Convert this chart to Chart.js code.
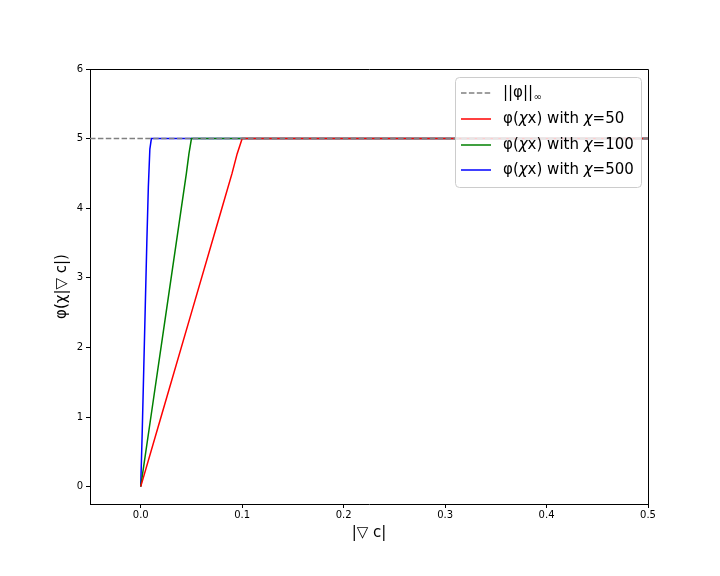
<!DOCTYPE html>
<html>
<head>
<meta charset="utf-8">
<script src="https://cdn.jsdelivr.net/npm/chart.js@4/dist/chart.umd.min.js"></script>
<style>
html,body{margin:0;padding:0;background:#fff;}
#wrap{width:720px;height:576px;position:relative;}
</style>
</head>
<body>
<div id="wrap"><canvas id="c" width="720" height="576"></canvas></div>
<script>
// ---- data ----
const normX = [-0.05, 0.5];
const normY = [5, 5];
const redX = [0, 0.02, 0.05, 0.08, 0.09, 0.095, 0.1, 0.5];
const redY = [0, 1.0, 2.5, 4.0, 4.5, 4.78, 5, 5];
const greenX = [0, 0.01, 0.025, 0.04, 0.045, 0.0475, 0.05, 0.5];
const greenY = [0, 1.0, 2.5, 4.0, 4.5, 4.78, 5, 5];
const blueX = [0, 0.0015, 0.003, 0.0045, 0.006, 0.0075, 0.009, 0.0105, 0.5];
const blueY = [0, 0.8, 1.7, 2.6, 3.5, 4.3, 4.85, 5, 5];
const xTicks = [0, 0.1, 0.2, 0.3, 0.4, 0.5];
const yTicks = [0, 1, 2, 3, 4, 5, 6];
const seriesLabels = ['||φ||∞', 'φ(χx) with χ=50', 'φ(χx) with χ=100', 'φ(χx) with χ=500'];
const chiValues = ['50', '100', '500'];

const pts = (xs, ys) => xs.map((x, i) => ({x: x, y: ys[i]}));
const FONT = "'DejaVu Sans', sans-serif";
const align = p => Math.round(p - 0.5) + 0.5;

const frame = {
  id: 'frame',
  afterDraw(chart) {
    const a = chart.chartArea, ctx = chart.ctx;
    ctx.save();
    // top and right spines
    ctx.strokeStyle = '#000';
    ctx.lineWidth = 1;
    ctx.beginPath();
    ctx.moveTo(align(a.left), align(a.top));
    ctx.lineTo(align(a.right), align(a.top));
    ctx.lineTo(align(a.right), align(a.bottom));
    ctx.stroke();

    // legend box
    const bx = 455.5, by = 77.5, bw = 186, bh = 110, r = 4;
    ctx.beginPath();
    ctx.moveTo(bx + r, by);
    ctx.lineTo(bx + bw - r, by);
    ctx.arcTo(bx + bw, by, bx + bw, by + r, r);
    ctx.lineTo(bx + bw, by + bh - r);
    ctx.arcTo(bx + bw, by + bh, bx + bw - r, by + bh, r);
    ctx.lineTo(bx + r, by + bh);
    ctx.arcTo(bx, by + bh, bx, by + bh - r, r);
    ctx.lineTo(bx, by + r);
    ctx.arcTo(bx, by, bx + r, by, r);
    ctx.closePath();
    ctx.fillStyle = 'rgba(255,255,255,0.8)';
    ctx.fill();
    ctx.strokeStyle = '#cccccc';
    ctx.lineWidth = 1;
    ctx.stroke();

    const ds = chart.data.datasets;
    const rows = [93, 119, 145, 170];
    const hx0 = 461, hx1 = 491, tx = 503;
    ctx.textBaseline = 'middle';
    ctx.textAlign = 'left';
    rows.forEach((y, i) => {
      const d = ds[i];
      ctx.beginPath();
      ctx.strokeStyle = d.borderColor;
      ctx.lineWidth = 1.5;
      ctx.setLineDash(d.borderDash || []);
      ctx.moveTo(hx0, y);
      ctx.lineTo(hx1, y);
      ctx.stroke();
      ctx.setLineDash([]);
      ctx.fillStyle = '#000';
      if (i === 0) {
        ctx.font = '15px ' + FONT;
        const s = '||φ||';
        ctx.fillText(s, tx, y);
        const w = ctx.measureText(s).width;
        ctx.font = '10px ' + FONT;
        ctx.fillText('∞', tx + w + 0.5, y + 4);
      } else {
        const parts = [['φ(', false], ['χ', true], ['x) with ', false], ['χ', true], ['=' + chiValues[i - 1], false]];
        let x = tx;
        parts.forEach(([t, it]) => {
          ctx.font = (it ? 'italic ' : '') + '15px ' + FONT;
          ctx.fillText(t, x, y);
          x += ctx.measureText(t).width;
        });
      }
    });
    ctx.restore();
  }
};

new Chart(document.getElementById('c'), {
  type: 'scatter',
  data: {
    datasets: [
      {label: seriesLabels[0], data: pts(normX, normY), showLine: true, borderColor: '#808080', borderDash: [5.5, 2.4], borderWidth: 1.5, pointRadius: 0, fill: false},
      {label: seriesLabels[1], data: pts(redX, redY), showLine: true, borderColor: '#ff0000', borderWidth: 1.5, pointRadius: 0, fill: false},
      {label: seriesLabels[2], data: pts(greenX, greenY), showLine: true, borderColor: '#008000', borderWidth: 1.5, pointRadius: 0, fill: false},
      {label: seriesLabels[3], data: pts(blueX, blueY), showLine: true, borderColor: '#0000ff', borderWidth: 1.5, pointRadius: 0, fill: false}
    ]
  },
  options: {
    responsive: false,
    animation: false,
    events: [],
    layout: {padding: {top: 69, right: 72, left: 0, bottom: 0}},
    plugins: {legend: {display: false}, tooltip: {enabled: false}},
    scales: {
      x: {
        type: 'linear', min: -0.05, max: 0.5,
        afterBuildTicks: s => { s.ticks = xTicks.map(v => ({value: v})); },
        afterFit: s => { s.height = 72; },
        grid: {drawOnChartArea: false, drawTicks: true, tickLength: 4, color: '#000', tickWidth: 1},
        border: {display: true, color: '#000', width: 1},
        ticks: {color: '#000', font: {family: FONT, size: 10}, padding: 1, maxRotation: 0,
                callback: v => Number(v).toFixed(1)},
        title: {display: true, text: '|▽ c|', color: '#000', font: {family: FONT, size: 15}, padding: {top: 0, bottom: 34}}
      },
      y: {
        type: 'linear', min: -0.25, max: 6,
        afterBuildTicks: s => { s.ticks = yTicks.map(v => ({value: v})); },
        afterFit: s => { s.width = 90; },
        grid: {drawOnChartArea: false, drawTicks: true, tickLength: 4, color: '#000', tickWidth: 1},
        border: {display: true, color: '#000', width: 1},
        ticks: {color: '#000', font: {family: FONT, size: 10}, padding: 3,
                callback: v => String(v)},
        title: {display: true, text: 'φ(χ|▽ c|)', color: '#000', font: {family: FONT, size: 15}, padding: {top: 53, bottom: 0}}
      }
    }
  },
  plugins: [frame]
});
</script>
</body>
</html>
